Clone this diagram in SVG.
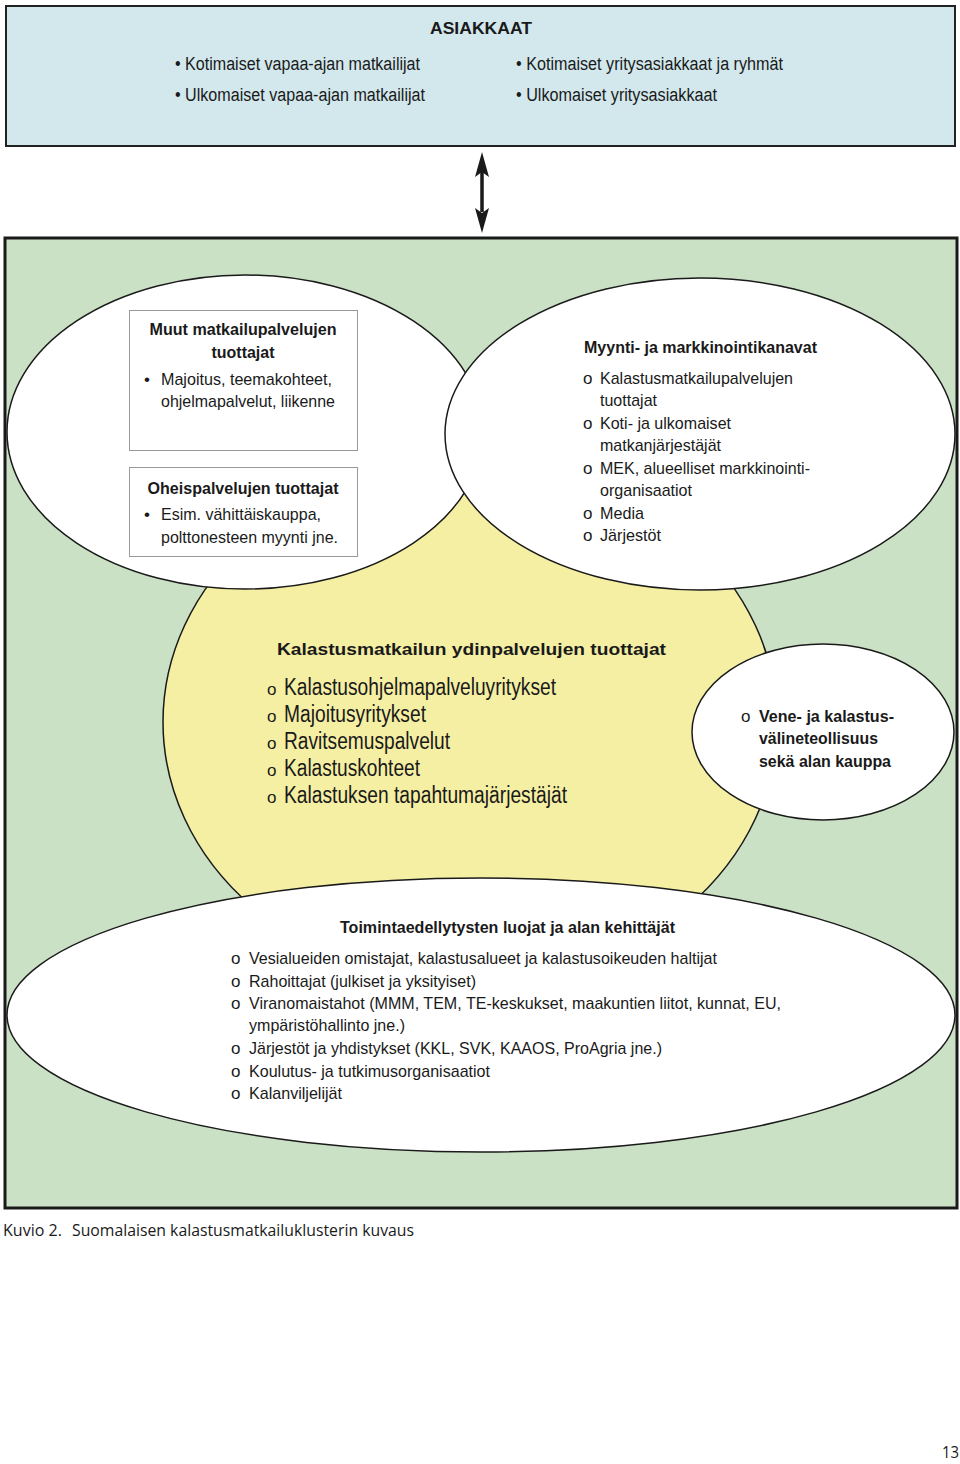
<svg xmlns="http://www.w3.org/2000/svg" width="960" height="1464" viewBox="0 0 960 1464">
<style>
text{font-family:"Liberation Sans Narrow","Liberation Sans",Arial,sans-serif;fill:#1a1a1a;font-size:17px}
.b{font-weight:bold}
.c{text-anchor:middle}
.big{font-size:23px}
.top{font-size:18px}
.cap{font-family:"Open Sans","Liberation Sans",sans-serif}
.sh{stroke:#1a1a1a;stroke-width:1.5}
</style>
<rect width="960" height="1464" fill="#fff"/>

<g id="asiakkaat">
<rect x="6" y="6" width="949" height="140" fill="#d2e8ed" stroke="#222" stroke-width="2"/>
<text x="481" y="34" class="b c" font-size="22" textLength="102" lengthAdjust="spacingAndGlyphs">ASIAKKAAT</text>
<text x="175" y="70" class="top" textLength="245" lengthAdjust="spacingAndGlyphs">• Kotimaiset vapaa-ajan matkailijat</text>
<text x="175" y="101" class="top" textLength="250" lengthAdjust="spacingAndGlyphs">• Ulkomaiset vapaa-ajan matkailijat</text>
<text x="516" y="70" class="top" textLength="267" lengthAdjust="spacingAndGlyphs">• Kotimaiset yritysasiakkaat ja ryhmät</text>
<text x="516" y="101" class="top" textLength="201" lengthAdjust="spacingAndGlyphs">• Ulkomaiset yritysasiakkaat</text>
</g>

<g id="connectors">
<path d="M482,172 L482,212" stroke="#1a1a1a" stroke-width="3.5" fill="none"/>
<path d="M482,152 L489,177 L482,172 L475,177 Z" fill="#1a1a1a"/>
<path d="M482,233 L489,208 L482,213 L475,208 Z" fill="#1a1a1a"/>
</g>

<g id="klusteri">
<rect x="5" y="238" width="952" height="970" fill="#cbe1c5" stroke="#1a1a1a" stroke-width="3"/>
</g>

<g id="ydin">
<ellipse cx="470" cy="722" rx="307" ry="262" fill="#f5efa3" class="sh"/>
<text x="277" y="655" class="b" font-size="22" textLength="389" lengthAdjust="spacingAndGlyphs">Kalastusmatkailun ydinpalvelujen tuottajat</text>
<text x="267" y="695">o</text><text x="284" y="695" class="big" textLength="272" lengthAdjust="spacingAndGlyphs">Kalastusohjelmapalveluyritykset</text>
<text x="267" y="722">o</text><text x="284" y="722" class="big" textLength="142" lengthAdjust="spacingAndGlyphs">Majoitusyritykset</text>
<text x="267" y="749">o</text><text x="284" y="749" class="big" textLength="166" lengthAdjust="spacingAndGlyphs">Ravitsemuspalvelut</text>
<text x="267" y="776">o</text><text x="284" y="776" class="big" textLength="136" lengthAdjust="spacingAndGlyphs">Kalastuskohteet</text>
<text x="267" y="803">o</text><text x="284" y="803" class="big" textLength="283" lengthAdjust="spacingAndGlyphs">Kalastuksen tapahtumajärjestäjät</text>
</g>

<g id="muut">
<ellipse cx="245" cy="432" rx="238" ry="157" fill="#fff" class="sh"/>
<rect x="129.5" y="310.5" width="228" height="140" fill="#fff" stroke="#999" stroke-width="1"/>
<rect x="129.5" y="467.5" width="228" height="89" fill="#fff" stroke="#999" stroke-width="1"/>
<text x="243" y="335" class="b c" textLength="187" lengthAdjust="spacingAndGlyphs">Muut matkailupalvelujen</text>
<text x="243" y="358" class="b c" textLength="63" lengthAdjust="spacingAndGlyphs">tuottajat</text>
<text x="144" y="385">•</text>
<text x="161" y="385" textLength="171" lengthAdjust="spacingAndGlyphs">Majoitus, teemakohteet,</text>
<text x="161" y="407" textLength="174" lengthAdjust="spacingAndGlyphs">ohjelmapalvelut, liikenne</text>
<text x="243" y="494" class="b c" textLength="191" lengthAdjust="spacingAndGlyphs">Oheispalvelujen tuottajat</text>
<text x="144" y="520">•</text>
<text x="161" y="520" textLength="160" lengthAdjust="spacingAndGlyphs">Esim. vähittäiskauppa,</text>
<text x="161" y="543" textLength="177" lengthAdjust="spacingAndGlyphs">polttonesteen myynti jne.</text>
</g>

<g id="myynti">
<ellipse cx="700" cy="434" rx="255" ry="156" fill="#fff" class="sh"/>
<text x="584" y="353" class="b" textLength="233" lengthAdjust="spacingAndGlyphs">Myynti- ja markkinointikanavat</text>
<text x="583" y="384">o</text><text x="600" y="384" textLength="193" lengthAdjust="spacingAndGlyphs">Kalastusmatkailupalvelujen</text>
<text x="600" y="406" textLength="57" lengthAdjust="spacingAndGlyphs">tuottajat</text>
<text x="583" y="429">o</text><text x="600" y="429" textLength="131" lengthAdjust="spacingAndGlyphs">Koti- ja ulkomaiset</text>
<text x="600" y="451" textLength="121" lengthAdjust="spacingAndGlyphs">matkanjärjestäjät</text>
<text x="583" y="474">o</text><text x="600" y="474" textLength="210" lengthAdjust="spacingAndGlyphs">MEK, alueelliset markkinointi-</text>
<text x="600" y="496" textLength="92" lengthAdjust="spacingAndGlyphs">organisaatiot</text>
<text x="583" y="519">o</text><text x="600" y="519" textLength="44" lengthAdjust="spacingAndGlyphs">Media</text>
<text x="583" y="541">o</text><text x="600" y="541" textLength="61" lengthAdjust="spacingAndGlyphs">Järjestöt</text>
</g>

<g id="vene">
<ellipse cx="823" cy="732" rx="131" ry="88" fill="#fff" class="sh"/>
<text x="741" y="722" font-size="16">o</text>
<text x="759" y="722" class="b" textLength="135" lengthAdjust="spacingAndGlyphs">Vene- ja kalastus-</text>
<text x="759" y="744" class="b" textLength="119" lengthAdjust="spacingAndGlyphs">välineteollisuus</text>
<text x="759" y="767" class="b" textLength="132" lengthAdjust="spacingAndGlyphs">sekä alan kauppa</text>
</g>

<g id="toimintaedellytykset">
<ellipse cx="481" cy="1015" rx="474" ry="137" fill="#fff" class="sh"/>
<text x="340" y="933" class="b" font-size="18" textLength="335" lengthAdjust="spacingAndGlyphs">Toimintaedellytysten luojat ja alan kehittäjät</text>
<text x="231" y="964">o</text><text x="249" y="964" textLength="468" lengthAdjust="spacingAndGlyphs">Vesialueiden omistajat, kalastusalueet ja kalastusoikeuden haltijat</text>
<text x="231" y="987">o</text><text x="249" y="987" textLength="227" lengthAdjust="spacingAndGlyphs">Rahoittajat (julkiset ja yksityiset)</text>
<text x="231" y="1009">o</text><text x="249" y="1009" textLength="532" lengthAdjust="spacingAndGlyphs">Viranomaistahot (MMM, TEM, TE-keskukset, maakuntien liitot, kunnat, EU,</text>
<text x="249" y="1031" textLength="156" lengthAdjust="spacingAndGlyphs">ympäristöhallinto jne.)</text>
<text x="231" y="1054">o</text><text x="249" y="1054" textLength="413" lengthAdjust="spacingAndGlyphs">Järjestöt ja yhdistykset (KKL, SVK, KAAOS, ProAgria jne.)</text>
<text x="231" y="1077">o</text><text x="249" y="1077" textLength="241" lengthAdjust="spacingAndGlyphs">Koulutus- ja tutkimusorganisaatiot</text>
<text x="231" y="1099">o</text><text x="249" y="1099" textLength="93" lengthAdjust="spacingAndGlyphs">Kalanviljelijät</text>
</g>

<g id="caption">
<text x="3" y="1236" class="cap" textLength="59" lengthAdjust="spacingAndGlyphs">Kuvio 2.</text>
<text x="72" y="1236" class="cap" textLength="342" lengthAdjust="spacingAndGlyphs">Suomalaisen kalastusmatkailuklusterin kuvaus</text>
<text x="942" y="1458" class="cap" textLength="17" lengthAdjust="spacingAndGlyphs">13</text>
</g>
</svg>
